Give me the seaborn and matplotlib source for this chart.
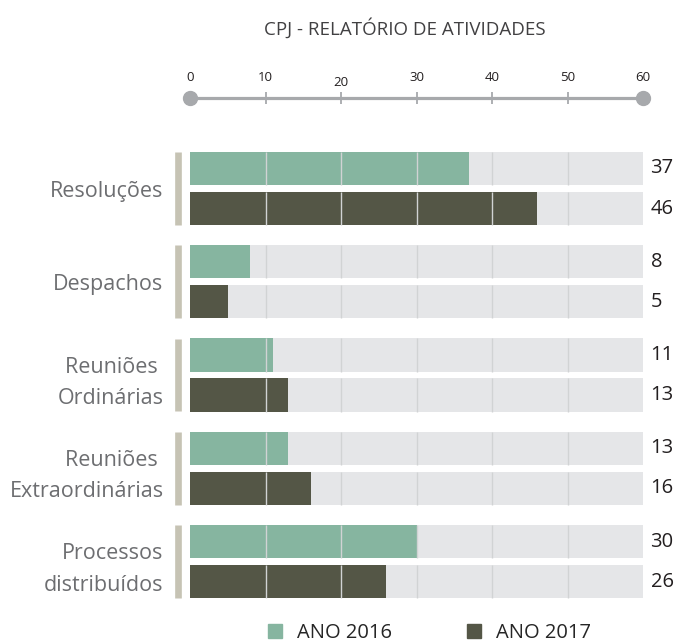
import pandas as pd
import matplotlib.pyplot as plt
import seaborn as sns
from matplotlib.lines import Line2D

# data
categorias = ['Resoluções', 'Despachos', 'Reuniões \nOrdinárias',
              'Reuniões \nExtraordinárias', 'Processos\ndistribuídos']
anos = ['ANO 2016', 'ANO 2017']
valores_2016 = [37, 8, 11, 13, 30]
valores_2017 = [46, 5, 13, 16, 26]
escala_max = 60
ticks_topo = [0, 10, 20, 30, 40, 50, 60]

VERDE = '#86B5A0'
ESCURO = '#545646'
FUNDO = '#E5E6E8'
BEGE = '#C6C3B4'
CINZA_TXT = '#6D6E71'
CINZA_EIXO = '#A7A9AC'

df = pd.DataFrame({
    'categoria': categorias * 2,
    'ano': [anos[0]] * len(categorias) + [anos[1]] * len(categorias),
    'valor': valores_2016 + valores_2017,
})
df['fundo'] = escala_max

sns.set_style('white')
plt.rcParams['font.family'] = ['Open Sans', 'DejaVu Sans']

fig = plt.figure(figsize=(6.8, 6.44), dpi=100)
W, H = 680, 644
ax = fig.add_axes([190 / W, (H - 612) / H, 453 / W, 472 / H])

# grey background bars then the values
sns.barplot(data=df, x='fundo', y='categoria', hue='ano', palette=[FUNDO, FUNDO],
            width=0.86, gap=0.17, legend=False, ax=ax, orient='h', saturation=1)
n_fundo = len(ax.patches)
sns.barplot(data=df, x='valor', y='categoria', hue='ano', palette=[VERDE, ESCURO],
            width=0.86, gap=0.17, legend=False, ax=ax, orient='h', saturation=1)

for p in ax.patches:
    p.set_edgecolor('none')

# thin grid lines inside each bar
for p in ax.patches[:n_fundo]:
    y0, y1 = p.get_y(), p.get_y() + p.get_height()
    ax.vlines(ticks_topo[1:-1], y0, y1, color='#D1D3D4', lw=1, zorder=5)

ax.set_xlim(0, escala_max)
ax.set_ylim(4.54, -0.52)
ax.set_xlabel('')
ax.set_ylabel('')
ax.set_xticks([])
sns.despine(ax=ax, left=True, bottom=True)
ax.tick_params(axis='y', length=0, pad=19, labelsize=15.5, labelcolor=CINZA_TXT)
for lab in ax.get_yticklabels():
    lab.set_linespacing(1.65)
    lab.set_ha('right')

# beige marker to the left of each group
for i in range(len(categorias)):
    ax.vlines(-1.55, i - 0.39, i + 0.39, color=BEGE, lw=4.8, clip_on=False)

# value labels on the right
for i in range(len(categorias)):
    ax.text(61, i - 0.215, str(valores_2016[i]), va='center', ha='left',
            fontsize=14.5, color='#231F20', clip_on=False)
    ax.text(61, i + 0.215, str(valores_2017[i]), va='center', ha='left',
            fontsize=14.5, color='#231F20', clip_on=False)

# top scale
ax2 = fig.add_axes([190 / W, (H - 120) / H, 453 / W, 60 / H])
ax2.set_xlim(0, escala_max)
ax2.set_ylim(-1, 1)
ax2.axis('off')
ax2.plot([0, escala_max], [-0.27, -0.27], color=CINZA_EIXO, lw=2.3, solid_capstyle='butt')
ax2.plot([0, escala_max], [-0.27, -0.27], 'o', color=CINZA_EIXO, ms=10, clip_on=False)
ax2.plot(ticks_topo[1:-1], [-0.27] * 5, '|', color=CINZA_EIXO, ms=8, mew=1.3)
for t in ticks_topo:
    dy = -0.17 if t == 20 else 0
    ax2.text(t, 0.43 + dy, str(t), ha='center', va='center', fontsize=9.5, color='#231F20')

fig.text(405 / W, 1 - 28 / H, 'CPJ - RELATÓRIO DE ATIVIDADES', ha='center', va='center',
         fontsize=13.5, color='#414042')

handles = [Line2D([], [], marker='s', ls='', color=c, ms=10) for c in [VERDE, ESCURO]]
fig.legend(handles, anos, loc='center', bbox_to_anchor=(428 / W, 1 - 633 / H), ncol=2,
           frameon=False, fontsize=14.5, handletextpad=0.6, columnspacing=3.6,
           handlelength=1)

fig.savefig('out.png', dpi=100)
